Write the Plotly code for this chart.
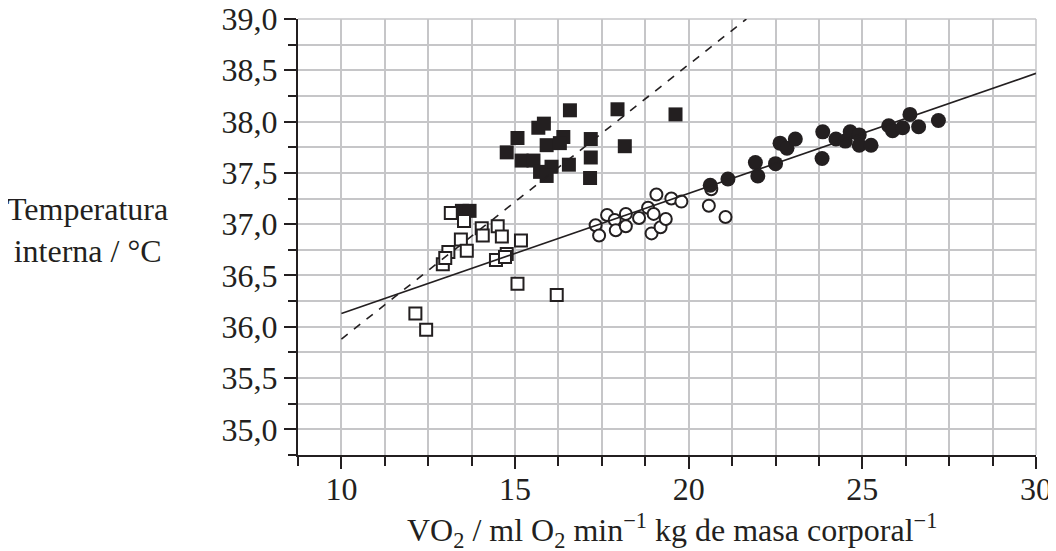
import plotly.graph_objects as go

# ---- data ----
filled_sq_x = [16.58, 17.95, 19.62, 15.67, 15.83, 15.07, 16.39, 17.18, 15.91, 16.29, 18.16,
               14.76, 15.19, 15.53, 16.05, 16.55, 17.18, 15.72, 15.91, 17.16, 13.47, 13.69]
filled_sq_y = [38.11, 38.12, 38.07, 37.94, 37.98, 37.84, 37.85, 37.83, 37.77, 37.79, 37.76,
               37.70, 37.62, 37.62, 37.56, 37.58, 37.65, 37.51, 37.47, 37.45, 37.13, 37.13]

open_sq_x = [13.15, 13.53, 14.04, 14.07, 14.50, 14.62, 13.44, 13.08, 12.92, 13.61, 12.99,
             15.17, 14.45, 14.76, 14.71, 15.07, 16.20, 12.13, 12.44]
open_sq_y = [37.11, 37.03, 36.96, 36.89, 36.98, 36.88, 36.85, 36.73, 36.61, 36.74, 36.67,
             36.84, 36.65, 36.71, 36.68, 36.42, 36.31, 36.13, 35.97]

open_ci_x = [17.32, 17.42, 17.65, 17.87, 17.90, 18.19, 18.19, 18.57, 18.83, 18.99, 18.93,
             19.19, 19.34, 19.07, 19.50, 19.79, 20.65, 20.58, 21.06]
open_ci_y = [36.99, 36.89, 37.09, 37.04, 36.94, 37.10, 36.98, 37.06, 37.16, 37.10, 36.91,
             36.97, 37.05, 37.29, 37.25, 37.22, 37.34, 37.18, 37.07]

filled_ci_x = [20.62, 21.13, 21.92, 21.99, 22.50, 22.63, 22.83, 23.07, 23.86, 23.84, 24.24,
               24.51, 24.65, 24.91, 24.91, 25.25, 25.76, 25.87, 26.16, 26.37, 26.62, 27.19]
filled_ci_y = [37.38, 37.44, 37.60, 37.47, 37.59, 37.79, 37.74, 37.83, 37.90, 37.64, 37.83,
               37.81, 37.90, 37.87, 37.77, 37.77, 37.96, 37.91, 37.94, 38.07, 37.95, 38.01]

solid_x = [10, 30]
solid_y = [36.13, 38.47]
dashed_x = [10, 21.66]
dashed_y = [35.88, 39.0]

x_ticks = [10, 15, 20, 25, 30]
y_ticks = [35.0, 35.5, 36.0, 36.5, 37.0, 37.5, 38.0, 38.5, 39.0]

INK = "#231f20"
GRID = "#c6c6c8"
FONT = "Liberation Serif"
FS = 32

fig = go.Figure()
fig.add_trace(go.Scatter(x=filled_sq_x, y=filled_sq_y, mode="markers",
                         marker=dict(symbol="square", size=14, color=INK,
                                     line=dict(width=0))))
fig.add_trace(go.Scatter(x=open_sq_x, y=open_sq_y, mode="markers",
                         marker=dict(symbol="square", size=12, color="white",
                                     line=dict(width=2, color=INK))))
fig.add_trace(go.Scatter(x=open_ci_x, y=open_ci_y, mode="markers",
                         marker=dict(symbol="circle", size=12, color="white",
                                     line=dict(width=2, color=INK))))
fig.add_trace(go.Scatter(x=filled_ci_x, y=filled_ci_y, mode="markers",
                         marker=dict(symbol="circle", size=15, color=INK,
                                     line=dict(width=0))))
fig.add_trace(go.Scatter(x=solid_x, y=solid_y, mode="lines",
                         line=dict(color=INK, width=1.6)))
fig.add_trace(go.Scatter(x=dashed_x, y=dashed_y, mode="lines",
                         line=dict(color=INK, width=1.6, dash="8px,8px")))

# top and right frame (grid coloured)
fig.add_shape(type="line", xref="paper", yref="paper", x0=0, x1=1, y0=1, y1=1,
              line=dict(color=GRID, width=1.5), layer="below")
fig.add_shape(type="line", xref="paper", yref="paper", x0=1, x1=1, y0=0, y1=1,
              line=dict(color=GRID, width=1.5), layer="below")

fig.update_layout(
    width=1056, height=551,
    margin=dict(l=290, r=28, t=11, b=104),
    paper_bgcolor="white", plot_bgcolor="white",
    showlegend=False,
    font=dict(family=FONT, size=FS, color=INK),
    xaxis=dict(
        range=[8.75, 30], tickmode="array", tickvals=x_ticks,
        ticktext=[str(v) for v in x_ticks], automargin=False,
        ticks="outside", ticklen=12, tickwidth=1.5, tickcolor=INK,
        ticklabelstandoff=-7, ticklabeloverflow="allow",
        showline=True, linecolor=INK, linewidth=2,
        showgrid=True, gridcolor=GRID, gridwidth=1.5, zeroline=False,
        minor=dict(dtick=1.25, tick0=10, ticks="outside", ticklen=9, tickwidth=1.5,
                   tickcolor=INK, showgrid=True, gridcolor=GRID, gridwidth=1.5),
        tickfont=dict(family=FONT, size=FS, color=INK),
    ),
    yaxis=dict(
        range=[34.75, 39.0], tickmode="array", tickvals=y_ticks,
        ticktext=[f"{v:.1f}".replace(".", ",") for v in y_ticks], automargin=False,
        ticks="outside", ticklen=12, tickwidth=1.5, tickcolor=INK,
        ticklabeloverflow="allow",
        showline=True, linecolor=INK, linewidth=2,
        showgrid=True, gridcolor=GRID, gridwidth=1.5, zeroline=False,
        minor=dict(dtick=0.25, tick0=35, ticks="outside", ticklen=8, tickwidth=1.5,
                   tickcolor=INK, showgrid=True, gridcolor=GRID, gridwidth=1.5),
        tickfont=dict(family=FONT, size=FS, color=INK),
    ),
    annotations=[
        dict(text="Temperatura<br>interna / °C", xref="paper", yref="paper",
             x=-0.2846, y=0.516, xanchor="center", yanchor="middle",
             showarrow=False, align="center",
             font=dict(family=FONT, size=FS, color=INK)),
        dict(text="VO<sub>2</sub> / ml O<sub>2</sub> min<sup>−1</sup> kg de masa corporal<sup>−1</sup>",
             xref="paper", yref="paper", x=0.507, y=-0.174,
             xanchor="center", yanchor="middle", showarrow=False,
             font=dict(family=FONT, size=FS, color=INK)),
    ],
)

fig.write_html("out.html")
